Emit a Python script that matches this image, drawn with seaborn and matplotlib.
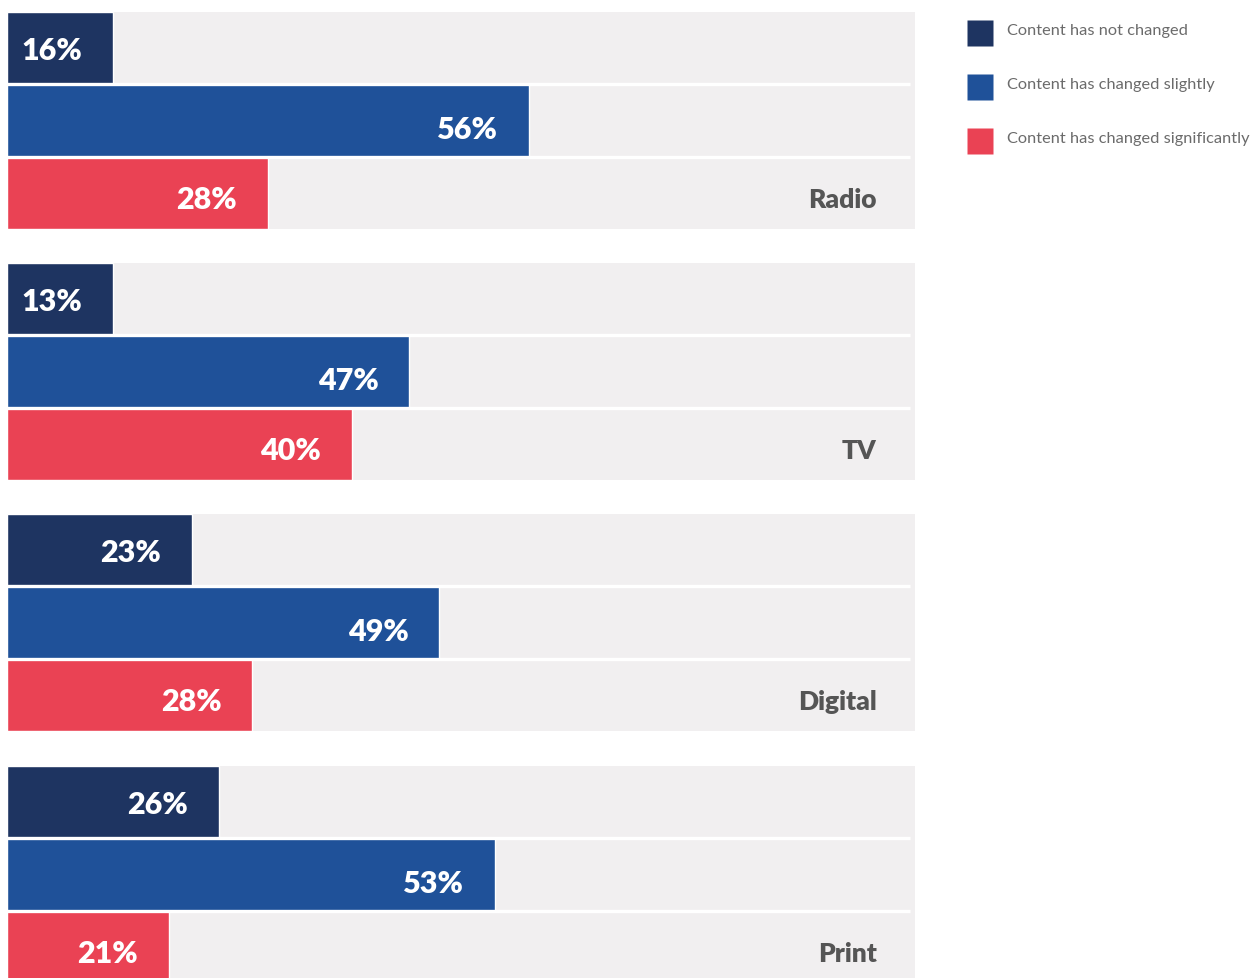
import matplotlib
matplotlib.use("Agg")
import matplotlib.pyplot as plt
from matplotlib.lines import Line2D
from matplotlib.path import Path
import seaborn as sns
import pandas as pd

# ---- data ----
media = ["Radio", "TV", "Digital", "Print"]
statuses = ["Content has not changed", "Content has changed slightly",
            "Content has changed significantly"]
pct_not_changed = [16, 13, 23, 26]
pct_slightly = [56, 47, 49, 53]
pct_significantly = [28, 40, 28, 21]
# drawn bar lengths as they appear in the picture (share of panel width, %)
bar_not_changed = [11.7, 11.7, 20.4, 23.3]
bar_slightly = [57.5, 44.3, 47.6, 53.7]
bar_significantly = [28.7, 38.0, 27.0, 17.8]

colors = ["#1e3461", "#1f5199", "#ea4254"]

rows = []
for i, m in enumerate(media):
    for s, p, b in zip(statuses,
                       [pct_not_changed[i], pct_slightly[i], pct_significantly[i]],
                       [bar_not_changed[i], bar_slightly[i], bar_significantly[i]]):
        rows.append({"medium": m, "status": s, "pct": p, "length": b})
df = pd.DataFrame(rows)

sns.set_theme(style="white")
plt.rcParams["font.family"] = ["Lato", "DejaVu Sans"]

W, H = 1260, 979
fig = plt.figure(figsize=(W / 100, H / 100), dpi=100)
fig.patch.set_facecolor("white")

panel_tops = [13, 264, 515, 767]
panel_h = 217
label_dy = [0.02, 0.12, 0.08]
for m, top in zip(media, panel_tops):
    ax = fig.add_axes([7 / W, 1 - (top + panel_h) / H, 908 / W, panel_h / H])
    ax.set_facecolor("#f1eff0")
    sub = df[df["medium"] == m]
    sns.barplot(data=sub, x="length", y="status", hue="status",
                order=statuses, hue_order=statuses, palette=colors,
                orient="h", width=1.0, saturation=1, legend=False, ax=ax)
    ax.set_xlim(0, 100)
    ax.set_ylim(2.5, -0.5)
    ax.hlines([0.5, 1.5], 0, 99.4, color="white", lw=2.4, zorder=5)
    for i, (_, r) in enumerate(sub.iterrows()):
        ax.text(r["length"] - 3.4, i + label_dy[i], f"{r['pct']}%", ha="right",
                va="center", color="white", fontsize=22, fontweight="heavy",
                zorder=6)
    ax.text(95.8, 2.08, m, ha="right", va="center", color="#555555",
            fontsize=19, fontweight="heavy", zorder=6)
    ax.set_xlabel("")
    ax.set_ylabel("")
    ax.set_xticks([])
    ax.set_yticks([])
    for sp in ax.spines.values():
        sp.set_visible(False)

# square marker sitting slightly below the text centre
sq = Path([(-13, -20), (13, -20), (13, 6), (-13, 6), (-13, -20)],
          [Path.MOVETO, Path.LINETO, Path.LINETO, Path.LINETO, Path.CLOSEPOLY])
handles = [Line2D([], [], marker=sq, markersize=28.8, markerfacecolor=c,
                  markeredgecolor="none", linestyle="none", label=s)
           for c, s in zip(colors, statuses)]
leg = fig.legend(handles=handles, loc="upper left",
                 bbox_to_anchor=(967 / W, 1 - 19 / H), frameon=False,
                 fontsize=11.8, handlelength=1.6, handleheight=1.6,
                 handletextpad=0.84, labelspacing=2.0, borderpad=0,
                 borderaxespad=0)
for t in leg.get_texts():
    t.set_color("#6b6b6b")

fig.savefig("out.png", dpi=100)
